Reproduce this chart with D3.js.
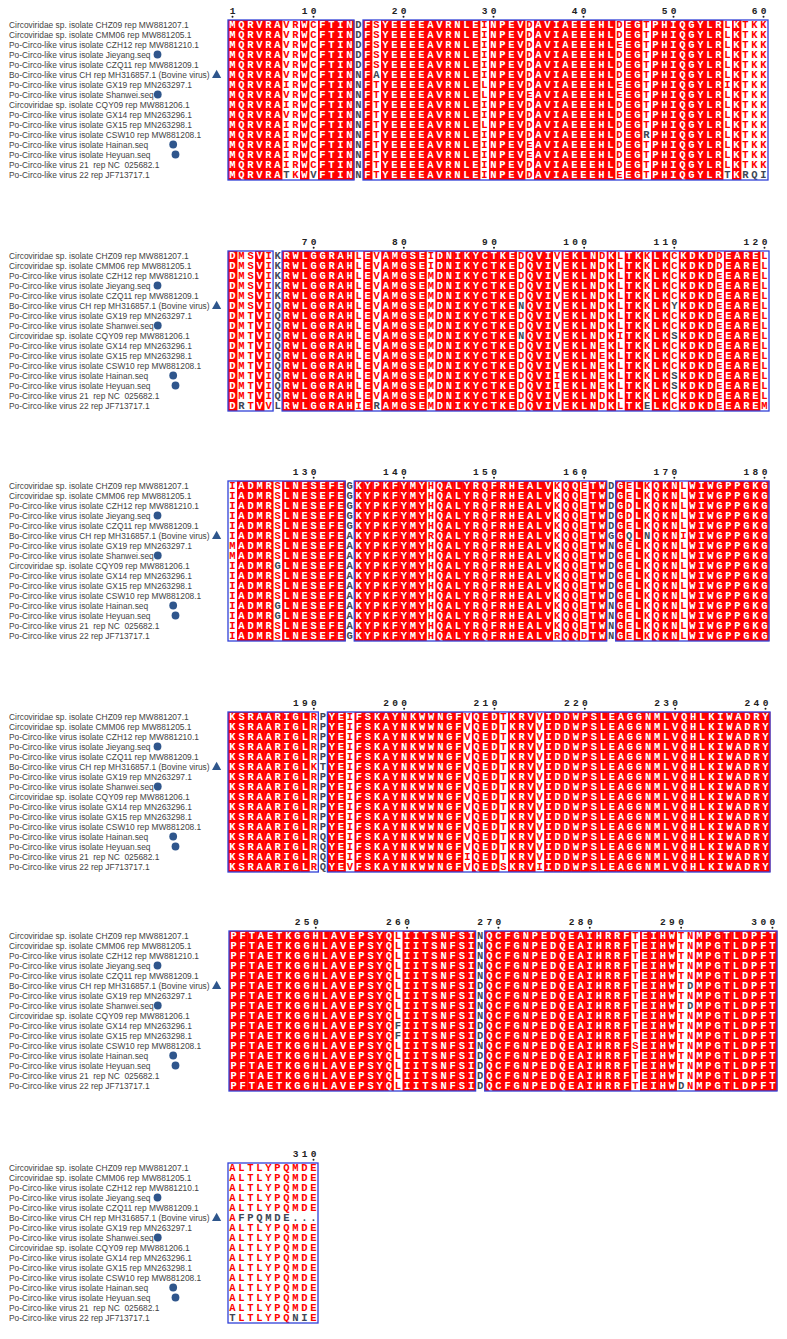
<!DOCTYPE html>
<html><head><meta charset="utf-8">
<script src="https://cdn.jsdelivr.net/npm/d3@7"></script>
<style>body{margin:0;background:#fff} svg{display:block}</style>
</head><body>
<svg id="chart" width="787" height="1339"></svg>
<script>
// ---------------- DATA ----------------
const names = [
  "Circoviridae sp. isolate CHZ09 rep MW881207.1",
  "Circoviridae sp. isolate CMM06 rep MW881205.1",
  "Po-Circo-like virus isolate CZH12 rep MW881210.1",
  "Po-Circo-like virus isolate Jieyang.seq",
  "Po-Circo-like virus isolate CZQ11 rep MW881209.1",
  "Bo-Circo-like virus CH rep MH316857.1 (Bovine virus)",
  "Po-Circo-like virus isolate GX19 rep MN263297.1",
  "Po-Circo-like virus isolate Shanwei.seq",
  "Circoviridae sp. isolate CQY09 rep MW881206.1",
  "Po-Circo-like virus isolate GX14 rep MN263296.1",
  "Po-Circo-like virus isolate GX15 rep MN263298.1",
  "Po-Circo-like virus isolate CSW10 rep MW881208.1",
  "Po-Circo-like virus isolate Hainan.seq",
  "Po-Circo-like virus isolate Heyuan.seq",
  "Po-Circo-like virus 21  rep NC  025682.1",
  "Po-Circo-like virus 22 rep JF713717.1"
];
const markers = [null, null, null, "circle", null, "triangle", null, "circle",
                 null, null, null, null, "circle", "circle", null, null];

// sequence of the first row (CHZ09), positions 1-310
const referenceSeq =
  "MQRVRAVRWCFTINDFSYEEEEAVRNLEINPEVDAVIAEEEHLDEGTPHIQGYLRLKTKK" +
  "DMSVIKRWLGGRAHLEVAMGSEIDNIKYCTKEDQVIVEKLNDKLTKKLKCKDKDDEAREL" +
  "IADMRSLNESEFEGKYPKFYMYHQALYRQFRHEALVKQQETWDGELKQKNLWIWGPPGKG" +
  "KSRAARIGLRPYEIFSKAYNKWWNGFVQEDTKRVVIDDWPSLEAGGNMLVQHLKIWADRY" +
  "PFTAETKGGHLAVEPSYQLIITSNFSINQCFGNPEDQEAIHRRFTEIHWTNMPGTLDPFT" +
  "ALTLYPQMDE";

// differences from the first row: [position, residue, rows (1-based)]
const variants = [
  [7, "I", [7, 9, 11, 12, 13, 14, 15]], [7, "T", [16]], [8, "K", [16]], [10, "V", [16]],
  [15, "N", [6, 7, 8, 9, 10, 11, 12, 13, 14, 15, 16]],
  [17, "A", [6]], [17, "T", [7, 8, 9, 10, 11, 12, 13, 14, 15, 16]],
  [29, "L", [7, 8, 11]], [34, "E", [8, 13, 14]], [44, "E", [3, 7, 8, 16]], [47, "R", [12]],
  [56, "I", [7]], [56, "T", [16]], [58, "R", [16]], [59, "Q", [16]], [60, "I", [16]],
  [62, "R", [16]], [63, "T", [7, 8, 9, 10, 11, 12, 13, 14, 15, 16]], [65, "V", [16]],
  [66, "Q", [6, 7, 8, 9, 10, 11, 12, 13, 14, 15]], [66, "L", [16]],
  [75, "I", [16]], [77, "R", [16]], [83, "M", [3, 4, 5, 6, 7, 8, 9, 10, 11, 12, 13, 14, 15, 16]],
  [93, "N", [6, 9]], [97, "I", [13, 14]], [102, "E", [10, 11, 12, 13, 14]], [104, "I", [9]],
  [107, "E", [16]], [110, "Y", [6]], [110, "S", [9, 13, 14]],
  [115, "E", [3, 4, 5, 6, 7, 8, 9, 10, 11, 12, 13, 14, 15, 16]], [120, "M", [16]],
  [121, "M", [7, 8]], [126, "G", [9, 13, 14]], [134, "A", [6, 7, 8, 9, 10, 11, 12, 13, 14, 15]],
  [143, "R", [6]], [157, "R", [16]], [160, "D", [16]], [163, "G", [6]], [163, "N", [7, 13, 14, 15, 16]],
  [165, "D", [3, 4]], [165, "Q", [6]], [167, "N", [6]], [171, "I", [6]],
  [190, "K", [6]], [191, "T", [6]], [191, "Q", [13, 14, 15, 16]], [194, "V", [16]],
  [207, "I", [15]], [211, "S", [16]], [215, "I", [16]],
  [259, "F", [10, 11]], [268, "D", [6, 10, 11, 13, 14, 15, 16]], [285, "S", [12]],
  [290, "D", [16]], [291, "D", [6, 8]],
  [301, "T", [16]], [302, "F", [6]], [303, "P", [6]], [304, "Q", [6]], [305, "M", [6]],
  [306, "D", [6]], [307, "E", [6]], [308, ".", [6]], [309, ".", [6]], [310, ".", [6]],
  [308, "N", [16]], [309, "I", [16]]
];

const unframedColumns = [15, 66, 134, 163, 191, 268];
const blockStarts = [1, 61, 121, 181, 241, 301];
const tickPositions = [1, 10, 20, 30, 40, 50, 60, 70, 80, 90, 100, 110, 120, 130, 140, 150, 160,
  170, 180, 190, 200, 210, 220, 230, 240, 250, 260, 270, 280, 290, 300, 310];
const similarityGroups = ["ILMV", "FYW", "KRH", "DE", "ST", "NQ", "AG"];

// ---------------- LAYOUT / STYLE ----------------
const layout = {
  blockTop: [20, 251, 481, 712, 931, 1163],
  blockX: [[228, 768], [228, 769], [228, 769], [228, 770], [229, 777], [228, 318]],
  rowOffset: 4.5, rowPitch: 10, boxHeight: 160, nameX: 9,
  markerGap: {3: 6, 5: 5, 7: 3, 12: 24, 13: 24}
};
const style = {
  red: "#ff0000", dark: "#3e4654", frame: "#3141d8", name: "#444444", marker: "#2f568c"
};

// ---------------- BUILD ----------------
const svg = d3.select("#chart");
const nRows = names.length;
const seqs = names.map(() => referenceSeq.split(""));
variants.forEach(([pos, res, rows]) => rows.forEach(r => { seqs[r - 1][pos - 1] = res; }));
const totalLen = referenceSeq.length;
const groupOf = ch => similarityGroups.find(g => g.includes(ch)) || ch;

blockStarts.forEach((start, b) => {
  const end = Math.min(start + 59, totalLen);
  const cols = d3.range(start, end + 1);
  const top = layout.blockTop[b];
  const x = d3.scaleBand().domain(cols).range(layout.blockX[b]);
  const bw = x.bandwidth();
  const y = d3.scalePoint().domain(d3.range(nRows))
    .range([top + layout.rowOffset, top + layout.rowOffset + (nRows - 1) * layout.rowPitch]);
  const g = svg.append("g");

  const colInfo = cols.map(c => {
    const res = seqs.map(s => s[c - 1]);
    const counts = d3.rollup(res.filter(r => r !== "."), v => v.length, d => d);
    const major = d3.greatest(counts, d => d[1])[0];
    return {c, res, major, identical: res.every(r => r === res[0]), framed: !unframedColumns.includes(c)};
  });

  // identical columns: red fill
  g.selectAll("rect.idc").data(colInfo.filter(d => d.identical)).join("rect")
    .attr("class", "idc")
    .attr("x", d => x(d.c)).attr("y", top)
    .attr("width", bw + 0.4).attr("height", layout.boxHeight)
    .attr("fill", style.red);

  // letters
  const cells = [];
  colInfo.forEach(d => d.res.forEach((r, i) => {
    let color;
    if (d.identical) color = "#ffffff";
    else if (!d.framed || r === ".") color = style.dark;
    else color = groupOf(r) === groupOf(d.major) ? style.red : style.dark;
    cells.push({c: d.c, row: i, r, color});
  }));
  g.selectAll("text.res").data(cells).join("text")
    .attr("class", "res")
    .attr("x", d => x(d.c) + bw / 2)
    .attr("y", d => y(d.row) + 3.6)
    .attr("text-anchor", "middle")
    .attr("font-family", "'Liberation Mono', 'Courier New', monospace")
    .attr("font-weight", "bold")
    .attr("font-size", 10.5)
    .attr("fill", d => d.color)
    .text(d => d.r);

  // frames around similarity runs
  const runs = [];
  colInfo.forEach(d => {
    if (!d.framed) return;
    const last = runs[runs.length - 1];
    if (last && last.end === d.c - 1) last.end = d.c; else runs.push({start: d.c, end: d.c});
  });
  g.selectAll("rect.box").data(runs).join("rect")
    .attr("class", "box")
    .attr("x", d => x(d.start)).attr("y", top)
    .attr("width", d => x(d.end) + bw - x(d.start)).attr("height", layout.boxHeight)
    .attr("fill", "none").attr("stroke", style.frame).attr("stroke-width", 1.3);

  // position numbers
  const tickDigits = [];
  tickPositions.filter(t => t >= start && t <= end).forEach(t => {
    const digits = String(t).split("");
    digits.forEach((dg, i) => tickDigits.push({c: t - (digits.length - 1) + i, dg}));
    g.append("circle").attr("cx", x(t) + bw / 2).attr("cy", top - 3.2).attr("r", 1.0).attr("fill", "#222");
  });
  g.selectAll("text.tick").data(tickDigits).join("text")
    .attr("class", "tick")
    .attr("x", d => x(d.c) + bw / 2).attr("y", top - 6)
    .attr("text-anchor", "middle")
    .attr("font-family", "'Liberation Mono', monospace")
    .attr("font-weight", "bold").attr("font-size", 9.5)
    .attr("fill", "#222")
    .text(d => d.dg);

  // sequence names + markers
  const nameText = g.selectAll("text.name").data(names).join("text")
    .attr("class", "name")
    .attr("x", layout.nameX).attr("y", (d, i) => y(i) + 3)
    .attr("font-family", "'Liberation Sans', Arial, sans-serif")
    .attr("font-size", 8.4)
    .attr("fill", style.name)
    .attr("xml:space", "preserve")
    .style("white-space", "pre")
    .text(d => d);
  nameText.each(function (d, i) {
    const m = markers[i];
    if (!m) return;
    const endX = layout.nameX + this.getComputedTextLength();
    const gap = layout.markerGap[i] || 5;
    const cy = y(i);
    if (m === "circle") {
      g.append("circle").attr("cx", endX + gap + 1).attr("cy", cy).attr("r", 3.9).attr("fill", style.marker);
    } else {
      const cx = endX + gap + 2;
      g.append("path").attr("d", `M${cx},${cy - 4.8}L${cx + 4.6},${cy + 3.6}L${cx - 4.6},${cy + 3.6}Z`)
        .attr("fill", style.marker);
    }
  });
});
</script>
</body></html>
